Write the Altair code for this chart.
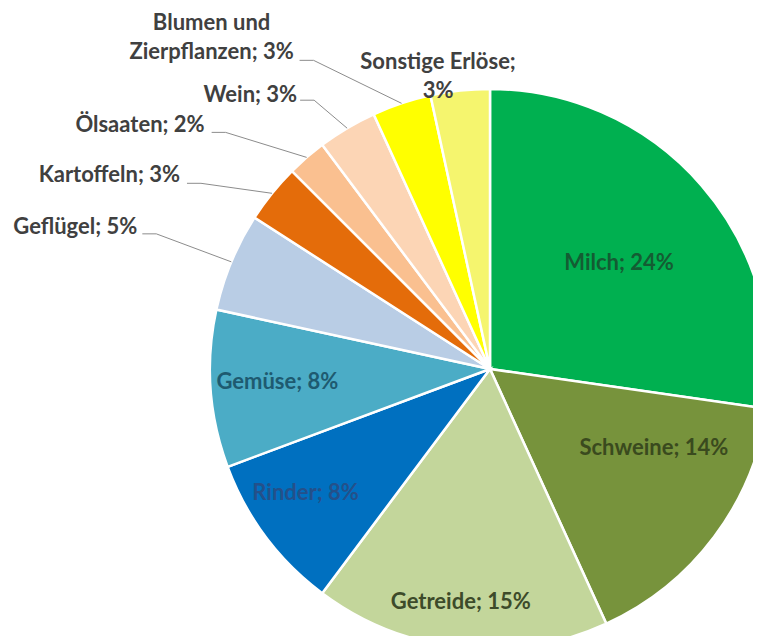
import math
import altair as alt
import pandas as pd

# ---- data ----
categories = ["Milch", "Schweine", "Getreide", "Rinder", "Gemüse", "Geflügel",
              "Kartoffeln", "Ölsaaten", "Wein", "Blumen und Zierpflanzen", "Sonstige Erlöse"]
shares = [24, 14, 15, 8, 8, 5, 3, 2, 3, 3, 3]
label_texts = ["Milch; 24%", "Schweine; 14%", "Getreide; 15%", "Rinder; 8%", "Gemüse; 8%",
               "Geflügel; 5%", "Kartoffeln; 3%", "Ölsaaten; 2%", "Wein; 3%",
               "Blumen und\nZierpflanzen; 3%", "Sonstige Erlöse;\n3%"]

# ---- styles ----
colors = ["#00B050", "#77933C", "#C3D69B", "#0070C0", "#4BACC6", "#B9CDE5",
          "#E46C0A", "#FAC090", "#FCD5B5", "#FFFF00", "#F5F56E"]
inside_colors = {"Milch": "#145C33", "Schweine": "#3A4A1E", "Getreide": "#3D4B2A",
                 "Rinder": "#24508A", "Gemüse": "#1E5A70"}

# ---- layout ----
W, H = 745, 628
CX, CY, R = 482, 361, 280
FONT = "Lato"
FS = 22
# inside labels: (radius px, angular shift in degrees from slice middle)
inside_layout = {"Milch": (167, 1.5), "Schweine": (182, -11), "Getreide": (235, 1),
                 "Rinder": (222, 3), "Gemüse": (213, 0.6)}
# outside labels: offset of the first text line from the slice's rim point, alignment,
# and offset of the leader line start from the rim point (None = no line)
outside_layout = {
    "Geflügel": (-94, -35, "right", (-89, -28)),
    "Kartoffeln": (-92, -18, "right", (-85, -10)),
    "Ölsaaten": (-102, -32, "right", (-95, -25)),
    "Wein": (-50, -33, "right", (-47, -28)),
    "Blumen und Zierpflanzen": (-190, -80, "center", (-102, -43)),
    "Sonstige Erlöse": (-22, -29, "center", None),
}
STUB = 14

total = sum(shares)
mids = []
c = 0
for s in shares:
    mids.append((c + s / 2) * 360.0 / total)
    c += s


def polar(angle_deg, r):
    a = math.radians(angle_deg)
    return CX + r * math.sin(a), CY - r * math.cos(a)


df = pd.DataFrame({"category": categories, "share": shares, "idx": list(range(len(categories)))})

pie = alt.Chart(df).mark_arc(radius=R, stroke="white", strokeWidth=2.5).encode(
    x=alt.value(CX), y=alt.value(CY),
    theta=alt.Theta("share:Q", stack=True),
    color=alt.Color("category:N", scale=alt.Scale(domain=categories, range=colors), legend=None),
    order=alt.Order("idx:Q"),
)

# inside labels
in_rows = []
for i, cat in enumerate(categories):
    if cat in inside_layout:
        r, shift = inside_layout[cat]
        px, py = polar(mids[i] + shift, r)
        in_rows.append({"category": cat, "label": label_texts[i], "px": px, "py": py})
in_df = pd.DataFrame(in_rows)
inside = alt.Chart(in_df).mark_text(font=FONT, fontSize=FS, fontWeight="bold",
                                    align="center", baseline="middle").encode(
    x=alt.X("px:Q", scale=None), y=alt.Y("py:Q", scale=None), text="label:N",
    color=alt.Color("category:N", scale=alt.Scale(domain=list(inside_colors.keys()),
                                                  range=list(inside_colors.values())), legend=None),
)

# outside labels and leader lines
out_rows = []
line_rows = []
for i, cat in enumerate(categories):
    if cat in outside_layout:
        dx, dy, al, ls = outside_layout[cat]
        rx, ry = polar(mids[i], R)
        out_rows.append({"category": cat, "label": label_texts[i], "px": rx + dx, "py": ry + dy, "align": al})
        if ls is not None:
            sx, sy = rx + ls[0], ry + ls[1]
            line_rows += [
                {"category": cat, "step": 0, "px": sx, "py": sy},
                {"category": cat, "step": 1, "px": sx + STUB, "py": sy},
                {"category": cat, "step": 2, "px": rx, "py": ry},
            ]
out_df = pd.DataFrame(out_rows)
line_df = pd.DataFrame(line_rows)

leaders = alt.Chart(line_df).mark_line(color="#8C8C8C", strokeWidth=1).encode(
    x=alt.X("px:Q", scale=None), y=alt.Y("py:Q", scale=None),
    detail="category:N", order="step:Q",
)

out_layers = []
for al in ["right", "center"]:
    out_layers.append(
        alt.Chart(out_df[out_df["align"] == al]).mark_text(
            font=FONT, fontSize=FS, fontWeight="bold", color="#404040",
            align=al, baseline="middle", lineBreak="\n", lineHeight=29,
        ).encode(x=alt.X("px:Q", scale=None), y=alt.Y("py:Q", scale=None), text="label:N")
    )

chart = alt.layer(pie, leaders, inside, *out_layers).resolve_scale(color="independent").properties(
    width=W, height=H, padding=0, autosize=alt.AutoSizeParams(type="none"), background="white",
).configure_view(stroke=None)

chart.save("out.html", embed_options={"renderer": "svg", "actions": False})
